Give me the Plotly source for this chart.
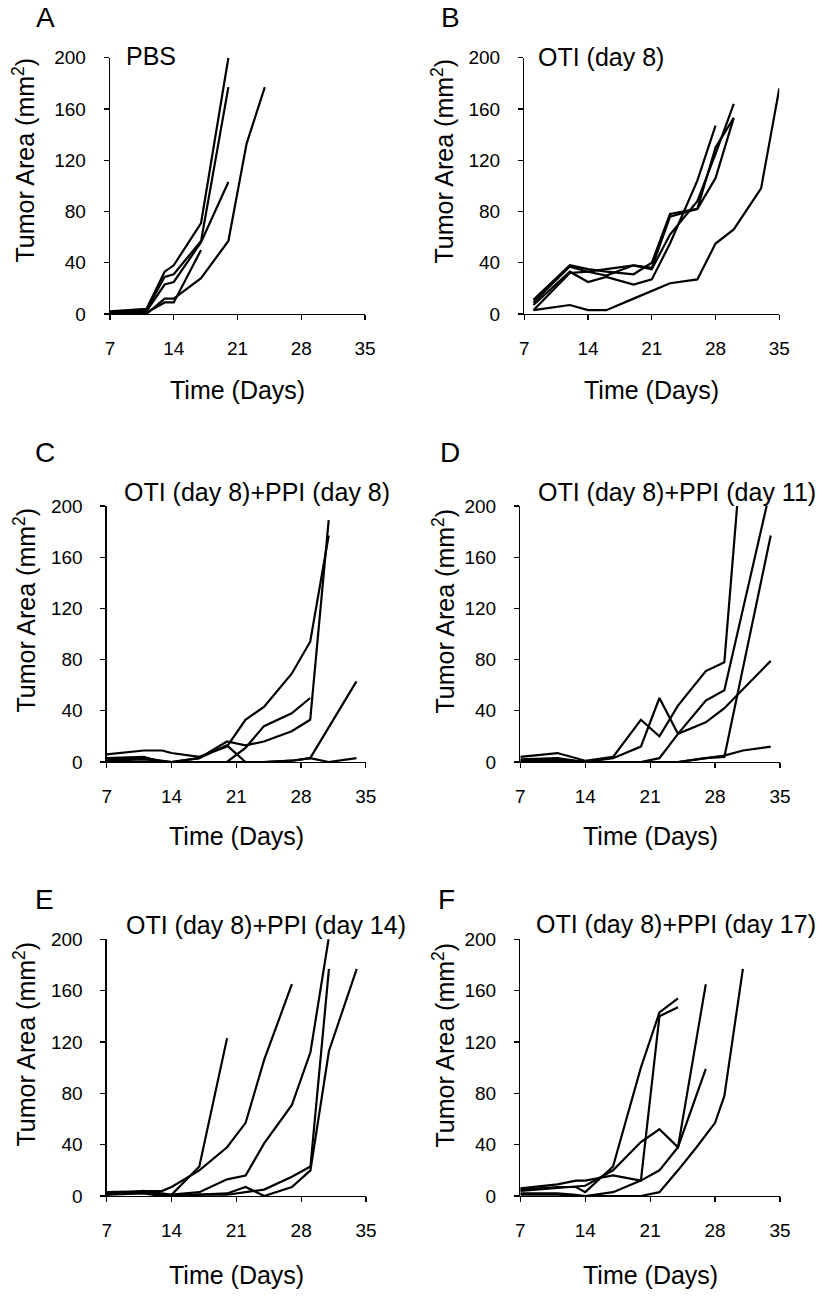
import plotly.graph_objects as go

# ---------------- data (days, tumor area mm^2) ----------------
# Panel A: PBS
A1_x = [7, 11, 13, 14, 17, 20];              A1_y = [2, 4, 33, 38, 71, 200]
A2_x = [7, 11, 13, 14, 17, 20];              A2_y = [1, 3, 29, 31, 57, 177]
A3_x = [7, 11, 13, 14, 17, 20];              A3_y = [1, 2, 23, 25, 56, 103]
A4_x = [7, 11, 13, 14, 17];                  A4_y = [0.5, 1, 9, 9, 50]
A5_x = [7, 11, 13, 14, 17, 20, 22, 24];      A5_y = [0, 0, 12, 12, 28, 57, 133, 177]

# Panel B: OTI (day 8)
B1_x = [8, 12, 14, 16, 19, 21, 23, 26, 28, 30]; B1_y = [11, 38, 35, 33, 31, 40, 78, 82, 106, 153]
B2_x = [8, 12, 14, 16, 19, 21, 23, 26, 28, 30]; B2_y = [9, 37, 33, 30, 38, 36, 76, 82, 130, 153]
B3_x = [8, 12, 14, 16, 19, 21, 23, 26, 28];     B3_y = [7, 33, 25, 29, 23, 27, 55, 104, 147]
B4_x = [8, 12, 14, 16, 19, 21, 23, 26, 28, 30]; B4_y = [3, 32, 33, 35, 38, 35, 62, 88, 125, 164]
B5_x = [8, 12, 14, 16, 19, 21, 23, 26, 28, 30, 33, 35]
B5_y = [3, 7, 3, 3, 12, 18, 24, 27, 55, 66, 98, 176]

# Panel C: OTI (day 8)+PPI (day 8)
C1_x = [7, 11, 13, 14, 17, 20, 22, 24, 27, 29, 31]; C1_y = [6, 9, 9, 7, 4, 12, 33, 43, 69, 94, 177]
C2_x = [7, 11, 13, 14, 17, 20, 22, 24, 27, 29, 31]; C2_y = [3, 4, 0, 0, 3, 16, 13, 16, 24, 33, 189]
C3_x = [7, 11, 14, 17, 20, 22, 24, 27, 29];         C3_y = [2, 3, 0, 0, 0, 11, 28, 38, 50]
C4_x = [7, 11, 14, 17, 20, 22, 24, 27, 29, 34];     C4_y = [1, 2, 0, 3, 13, 0, 0, 1, 3, 63]
C5_x = [7, 11, 14, 17, 20, 22, 24, 27, 29, 31, 34]; C5_y = [0, 0, 0, 0, 0, 0, 0, 1, 3, 0, 3]

# Panel D: OTI (day 8)+PPI (day 11)
D1_x = [7, 11, 14, 17, 20, 22, 24, 27, 29, 31];     D1_y = [4, 7, 1, 4, 33, 20, 44, 71, 78, 255]
D2_x = [7, 11, 14, 17, 20, 22, 24, 27, 29, 34];     D2_y = [2, 3, 0, 3, 12, 50, 22, 31, 42, 79]
D3_x = [7, 11, 14, 17, 20, 22, 24, 27, 29, 34];     D3_y = [1, 2, 0, 0, 0, 3, 22, 48, 56, 214]
D4_x = [7, 11, 14, 17, 20, 22, 24, 27, 29, 34];     D4_y = [0, 1, 0, 0, 0, 0, 0, 3, 4, 177]
D5_x = [7, 11, 14, 17, 20, 22, 24, 27, 29, 31, 34]; D5_y = [0, 0, 0, 0, 0, 0, 0, 3, 5, 9, 12]

# Panel E: OTI (day 8)+PPI (day 14)
E1_x = [7, 11, 13, 14, 17, 20];                     E1_y = [2, 3, 2, 1, 23, 123]
E2_x = [7, 11, 13, 14, 17, 20, 22, 24, 27];         E2_y = [3, 4, 4, 7, 20, 38, 57, 106, 165]
E3_x = [7, 11, 13, 14, 17, 20, 22, 24, 27, 29, 31]; E3_y = [2, 3, 1, 1, 3, 13, 16, 41, 71, 112, 202]
E4_x = [7, 11, 13, 14, 17, 20, 22, 24, 27, 29, 31, 34]
E4_y = [1, 4, 1, 0, 1, 2, 7, 0, 7, 20, 113, 177]
E5_x = [7, 11, 13, 14, 17, 20, 22, 24, 27, 29, 31]; E5_y = [1, 2, 0, 0, 1, 1, 3, 5, 15, 23, 177]

# Panel F: OTI (day 8)+PPI (day 17)
F1_x = [7, 11, 13, 14, 17, 20, 22, 24];             F1_y = [5, 7, 7, 3, 23, 100, 143, 154]
F2_x = [7, 11, 13, 14, 17, 20, 22, 24];             F2_y = [6, 9, 12, 12, 16, 12, 140, 147]
F3_x = [7, 11, 13, 14, 17, 20, 22, 24, 27];         F3_y = [2, 2, 1, 0, 3, 12, 20, 38, 165]
F4_x = [7, 11, 13, 14, 17, 20, 22, 24, 27];         F4_y = [4, 6, 7, 8, 20, 42, 52, 38, 99]
F5_x = [7, 11, 13, 14, 17, 20, 22, 24, 26, 28, 29, 31]
F5_y = [1, 1, 0, 0, 0, 0, 3, 20, 38, 57, 78, 177]

letters = ["A", "B", "C", "D", "E", "F"]
titles = ["PBS", "OTI (day 8)", "OTI (day 8)+PPI (day 8)", "OTI (day 8)+PPI (day 11)",
          "OTI (day 8)+PPI (day 14)", "OTI (day 8)+PPI (day 17)"]
x_ticks = [7, 14, 21, 28, 35]
y_ticks = [0, 40, 80, 120, 160, 200]
x_title = "Time (Days)"
y_title = "Tumor Area (mm<sup>2</sup>)"

series = [
    [(A1_x, A1_y), (A2_x, A2_y), (A3_x, A3_y), (A4_x, A4_y), (A5_x, A5_y)],
    [(B1_x, B1_y), (B2_x, B2_y), (B3_x, B3_y), (B4_x, B4_y), (B5_x, B5_y)],
    [(C1_x, C1_y), (C2_x, C2_y), (C3_x, C3_y), (C4_x, C4_y), (C5_x, C5_y)],
    [(D1_x, D1_y), (D2_x, D2_y), (D3_x, D3_y), (D4_x, D4_y), (D5_x, D5_y)],
    [(E1_x, E1_y), (E2_x, E2_y), (E3_x, E3_y), (E4_x, E4_y), (E5_x, E5_y)],
    [(F1_x, F1_y), (F2_x, F2_y), (F3_x, F3_y), (F4_x, F4_y), (F5_x, F5_y)],
]

# ---------------- layout (pixel geometry) ----------------
W, H = 822, 1296
FONT = "Liberation Sans, Arial, sans-serif"

# plot-area boxes: (left, right, top, bottom) in px
boxes = [
    (110, 365, 57.7, 314), (524.3, 779.3, 57.7, 314),
    (106.7, 365.7, 506, 762), (520.3, 780, 506, 762),
    (106.7, 366, 939.3, 1196), (520.3, 780, 939.3, 1196),
]
letter_pos = [(45, 18), (450, 18), (45, 452), (450, 452), (44, 899), (447, 899)]
title_pos = [(124, 56), (536, 57), (122, 492), (536, 492), (124, 925), (534, 924)]
ytitle_pos = [(24, 160.5), (443, 160.5), (24, 610.5), (443, 610.5), (24, 1044.5), (443, 1044.5)]
xtitle_y = [390, 390, 836, 836, 1275, 1275]


def px(x):
    return x / W


def py(y):
    return 1 - y / H


fig = go.Figure()
annotations = []
layout_axes = {}

for i in range(6):
    n = "" if i == 0 else str(i + 1)
    l, r, t, b = boxes[i]
    for xs, ys in series[i]:
        fig.add_trace(go.Scatter(x=xs, y=ys, mode="lines", xaxis="x" + n, yaxis="y" + n,
                                 line=dict(color="black", width=2.2), showlegend=False,
                                 hoverinfo="skip"))
    common = dict(showline=True, linecolor="black", linewidth=1.3, ticks="outside",
                  ticklen=5, tickcolor="black", tickwidth=1.3, showgrid=False,
                  zeroline=False, fixedrange=True, automargin=False,
                  tickfont=dict(family=FONT, size=19, color="black"))
    layout_axes["xaxis" + n] = dict(common, domain=[px(l), px(r)], range=[7, 35],
                                    tickvals=x_ticks, anchor="y" + n, ticklabelstandoff=12)
    layout_axes["yaxis" + n] = dict(common, domain=[py(b), py(t)], range=[0, 200],
                                    tickvals=y_ticks, anchor="x" + n, ticklabelstandoff=14)
    lx, ly = letter_pos[i]
    annotations.append(dict(text=letters[i], x=px(lx), y=py(ly), xref="paper", yref="paper",
                            xanchor="center", yanchor="middle", showarrow=False,
                            font=dict(family=FONT, size=28, color="black")))
    tx, ty = title_pos[i]
    annotations.append(dict(text=titles[i], x=px(tx), y=py(ty), xref="paper", yref="paper",
                            xanchor="left", yanchor="middle", showarrow=False,
                            font=dict(family=FONT, size=25, color="black")))
    annotations.append(dict(text=x_title, x=px((l + r) / 2), y=py(xtitle_y[i]), xref="paper",
                            yref="paper", xanchor="center", yanchor="middle", showarrow=False,
                            font=dict(family=FONT, size=25, color="black")))
    yx, yy = ytitle_pos[i]
    annotations.append(dict(text=y_title, x=px(yx), y=py(yy), xref="paper", yref="paper",
                            xanchor="center", yanchor="middle", showarrow=False, textangle=-90,
                            font=dict(family=FONT, size=25, color="black")))

fig.update_layout(width=W, height=H,
                  margin=dict(l=0, r=0, t=0, b=0, pad=0, autoexpand=False),
                  paper_bgcolor="white", plot_bgcolor="white",
                  annotations=annotations, **layout_axes)

# remove the default page margin so the 822x1296 figure fills the window exactly
fig.write_html("out.html",
               config={"displayModeBar": False, "staticPlot": True},
               post_script="document.documentElement.style.margin='0';"
                           "document.body.style.margin='0';document.body.style.padding='0';"
                           "document.body.style.overflow='hidden';")
